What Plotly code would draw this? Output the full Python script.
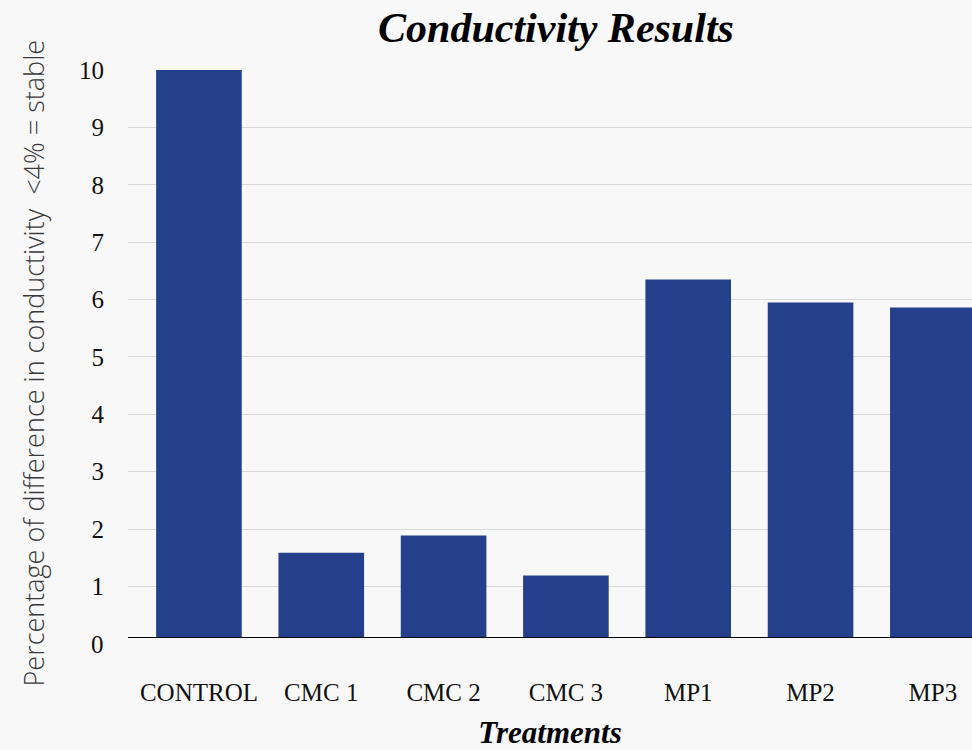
import plotly.graph_objects as go

categories = ["CONTROL", "CMC 1", "CMC 2", "CMC 3", "MP1", "MP2", "MP3"]
values = [10.0, 1.59, 1.89, 1.19, 6.35, 5.95, 5.86]
y_ticks = list(range(1, 11))
y_min_label = "0"

fig = go.Figure(go.Bar(x=categories, y=values, marker=dict(color="#25408b", line=dict(width=0)), width=0.7))

fig.update_layout(
    width=972, height=750,
    paper_bgcolor="#f8f8f8", plot_bgcolor="#f8f8f8",
    margin=dict(l=128, r=0, t=70, b=113, autoexpand=False),
    showlegend=False,
    title=dict(text="<b><i>Conductivity Results</i></b>", x=0.572, xanchor="center",
               y=0.963, yref="container", yanchor="middle",
               font=dict(family="Liberation Serif", size=42, color="#000")),
    annotations=[
        dict(text="Percentage of difference in conductivity  <4% = stable",
             xref="paper", yref="paper", x=0, y=0.5, xshift=-95, yshift=-10,
             xanchor="center", yanchor="middle", textangle=-90, showarrow=False,
             font=dict(family="Open Sans", size=27, color="#3a3a3a", weight=300)),
        dict(text=y_min_label, xref="paper", yref="paper", x=0, y=0, xshift=-22, yshift=-7,
             xanchor="right", yanchor="middle", showarrow=False,
             font=dict(family="Liberation Serif", size=25, color="#111")),
    ],
)
fig.update_xaxes(
    range=[-0.58, 6.32], showgrid=False, showline=True, linecolor="#000", linewidth=1, ticks="",
    automargin=False,
    tickfont=dict(family="Liberation Serif", size=25, color="#111"),
    ticklabelstandoff=33,
    title=dict(text="<b><i>Treatments</i></b>", font=dict(family="Liberation Serif", size=31, color="#000"), standoff=33),
)
fig.update_yaxes(
    range=[0.12, 10], tickvals=y_ticks, showgrid=True, gridcolor="#d9d9d9", gridwidth=1,
    zeroline=False, showline=False, ticks="", automargin=False,
    tickfont=dict(family="Liberation Serif", size=25, color="#111"),
    ticklabelstandoff=23,
)
fig.write_html("out.html", config={"displayModeBar": False},
               post_script="document.body.style.margin='0';document.body.style.padding='0';")
